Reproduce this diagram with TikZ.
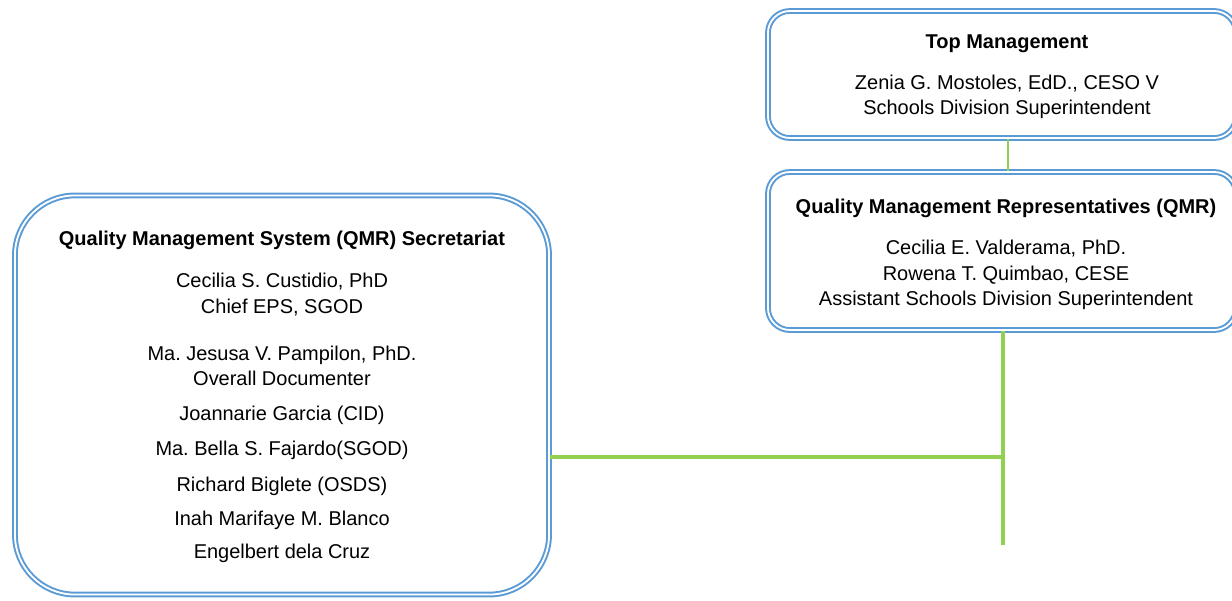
\documentclass[tikz,border=0pt]{standalone}
\usepackage{fontspec}
\setmainfont{Liberation Sans}
\usepackage{tikz}
\usetikzlibrary{calc}
\definecolor{boxblue}{RGB}{91,155,213}
\definecolor{linkgreen}{RGB}{146,208,80}
\frenchspacing

\begin{document}
\begin{tikzpicture}[x=0.025cm,y=-0.025cm,
  orgbox/.style={rectangle,draw=boxblue,double=white,line width=1.4pt,
    double distance=1.3pt,inner sep=0pt},
  txt/.style={anchor=base,inner sep=0pt,font=\fontsize{14.2}{17}\selectfont},
  head/.style={txt,font=\fontsize{14.2}{17}\selectfont\bfseries},
  link/.style={draw=linkgreen,line width=2.4pt}]
\useasboundingbox (0,0) rectangle (1232,600);
\clip (0,0) rectangle (1232,600);

% boxes
\node[orgbox,rounded corners=0.55cm,minimum width=11.7cm,minimum height=3.175cm]
  (top) at (1002,74.5) {};
\node[orgbox,rounded corners=0.55cm,minimum width=11.7cm,minimum height=3.95cm]
  (qmr) at (1002,251) {};
\node[orgbox,rounded corners=1.5cm,minimum width=13.35cm,minimum height=9.975cm]
  (sec) at (282,395) {};

% top management
\node[head] (tophead) at (1007,48) {Top Management};
\node[txt] (top1) at (1007,89) {Zenia G. Mostoles, EdD., CESO V};
\node[txt] (top2) at (1007,114) {Schools Division Superintendent};

% representatives
\node[head] (qmrhead) at (1006,213) {Quality Management Representatives (QMR)};
\foreach \y/\t [count=\i] in {254/{Cecilia E. Valderama, PhD.},
    280/{Rowena T. Quimbao, CESE},
    305/{Assistant Schools Division Superintendent}}
  \node[txt] (qmr\i) at (1006,\y) {\t};

% secretariat
\node[head] (sechead) at (282,245) {Quality Management System (QMR) Secretariat};
\foreach \y/\t [count=\i] in {287/{Cecilia S. Custidio, PhD},
    313/{Chief EPS, SGOD},
    360/{Ma. Jesusa V. Pampilon, PhD.},
    385/{Overall Documenter},
    420/{Joannarie Garcia (CID)},
    455/{Ma. Bella S. Fajardo(SGOD)},
    491/{Richard Biglete (OSDS)},
    525/{Inah Marifaye M. Blanco},
    558/{Engelbert dela Cruz}}
  \node[txt] (sec\i) at (282,\y) {\t};

% connectors
\coordinate (jn) at (1003,457);
\coordinate (tail) at (1003,545);
\draw[link,line width=2pt] ($(top.south)+(6,0)$) -- ($(qmr.north)+(6,0)$);
\draw[link] (qmr.south -| tail) -- (tail);
\draw[link] (sec.east |- jn) -- (jn);
\end{tikzpicture}
\end{document}
